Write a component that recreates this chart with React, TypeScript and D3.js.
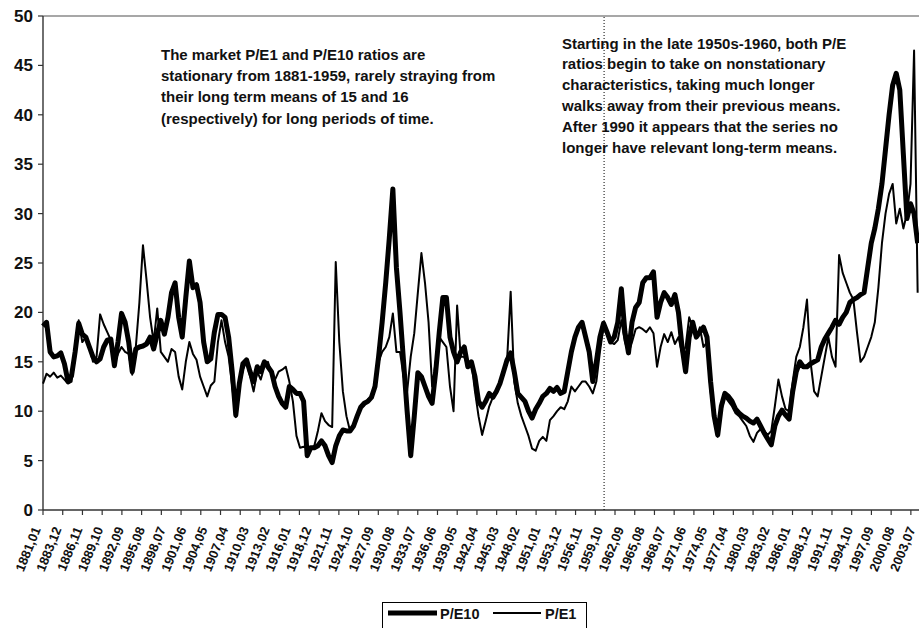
import React, { useEffect, useRef } from 'react';
import * as d3 from 'd3';

// semiannual readings (Jan, Jul) starting 1881
const START_YEAR = 1881;
const STEP_MONTHS = 6;

const peTen = [
  18.6, 19.0, 16.0, 15.5, 15.6, 15.9, 14.8, 13.0, 13.6, 16.0, // 1881-1885
  18.9, 17.8, 17.5, 16.5, 15.5, 15.0, 15.3, 16.5, 17.2, 17.3, // 1886-1890
  14.6, 17.0, 19.9, 19.0, 17.0, 14.0, 16.3, 16.5, 16.6, 16.8, // 1891-1895
  17.5, 16.3, 17.8, 19.2, 17.8, 19.5, 22.0, 23.0, 19.5, 17.5, // 1896-1900
  21.5, 25.2, 22.5, 22.8, 21.0, 17.0, 15.0, 15.3, 18.0, 19.8, // 1901-1905
  19.8, 19.5, 17.5, 14.0, 9.6, 12.8, 14.8, 15.2, 14.0, 13.0, // 1906-1910
  14.5, 14.0, 15.0, 14.5, 14.0, 12.5, 11.5, 10.8, 10.4, 12.5, // 1911-1915
  12.2, 11.8, 11.8, 11.0, 5.5, 6.3, 6.3, 6.5, 7.0, 6.5, // 1916-1920
  5.5, 4.8, 6.5, 7.5, 8.1, 8.0, 8.0, 8.5, 9.5, 10.4, // 1921-1925
  10.8, 11.0, 11.4, 12.5, 15.5, 19.0, 23.0, 27.5, 32.5, 24.5, // 1926-1930
  20.0, 15.0, 10.0, 5.5, 9.5, 13.9, 13.5, 12.5, 11.5, 10.8, // 1931-1935
  14.0, 18.0, 21.5, 21.5, 17.5, 16.0, 15.0, 16.0, 16.5, 14.5, // 1936-1940
  15.0, 13.5, 11.0, 10.4, 11.0, 11.8, 11.4, 12.0, 12.8, 14.0, // 1941-1945
  15.2, 15.9, 14.0, 11.8, 11.4, 11.0, 10.0, 9.3, 10.2, 10.8, // 1946-1950
  11.5, 11.8, 12.3, 12.0, 12.4, 11.8, 12.0, 14.0, 16.0, 17.5, // 1951-1955
  18.5, 19.0, 17.5, 16.0, 13.0, 15.0, 17.5, 18.9, 18.0, 17.0, // 1956-1960
  17.5, 19.0, 22.4, 18.0, 15.9, 19.0, 20.5, 21.0, 23.0, 23.5, // 1961-1965
  23.5, 24.1, 19.5, 21.0, 22.0, 21.5, 20.8, 21.8, 20.0, 16.5, // 1966-1970
  14.0, 17.5, 19.0, 17.5, 18.0, 18.5, 17.5, 13.0, 9.5, 7.6, // 1971-1975
  10.5, 11.8, 11.5, 11.0, 10.2, 9.8, 9.5, 9.3, 9.0, 8.8, // 1976-1980
  9.2, 8.5, 7.8, 7.2, 6.6, 8.5, 9.5, 10.1, 9.6, 9.2, // 1981-1985
  12.0, 14.0, 15.0, 14.5, 14.5, 14.8, 15.0, 15.2, 16.5, 17.3, // 1986-1990
  17.9, 18.5, 19.2, 18.8, 19.5, 20.0, 21.0, 21.3, 21.5, 21.8, // 1991-1995
  22.0, 24.5, 27.0, 28.5, 30.5, 33.0, 36.5, 40.0, 43.0, 44.2, // 1996-2000
  42.5, 36.0, 29.5, 31.0, 30.0, 27.0, // 2001-2003
];

const peOne = [
  12.8, 13.8, 13.5, 13.9, 13.4, 13.6, 13.2, 12.8, 13.0, 15.5, // 1881-1885
  19.2, 17.0, 17.5, 16.5, 15.0, 15.5, 19.8, 18.8, 18.0, 17.2, // 1886-1890
  14.8, 15.8, 16.5, 16.0, 15.8, 13.7, 16.5, 21.0, 26.8, 23.3, // 1891-1895
  19.5, 17.0, 20.4, 16.0, 15.5, 15.0, 16.3, 16.0, 13.5, 12.2, // 1896-1900
  15.0, 17.0, 15.8, 15.2, 13.5, 12.5, 11.5, 12.6, 13.0, 17.0, // 1901-1905
  19.2, 17.0, 15.5, 12.5, 9.4, 12.5, 14.2, 15.0, 13.5, 12.0, // 1906-1910
  14.0, 13.2, 14.5, 15.0, 13.8, 13.2, 14.0, 14.2, 14.5, 13.0, // 1911-1915
  11.0, 7.5, 6.3, 6.4, 6.3, 6.2, 6.5, 8.0, 9.8, 9.0, // 1916-1920
  8.6, 8.4, 25.1, 17.0, 12.0, 9.5, 8.0, 8.5, 9.5, 10.4, // 1921-1925
  10.6, 11.2, 11.4, 13.0, 15.0, 16.0, 16.5, 17.5, 19.9, 16.0, // 1926-1930
  16.0, 13.5, 12.0, 15.5, 17.9, 22.0, 26.0, 23.0, 19.0, 12.5, // 1931-1935
  15.0, 17.5, 17.0, 16.5, 12.5, 10.0, 20.7, 15.5, 15.5, 14.5, // 1936-1940
  15.0, 12.0, 9.5, 7.6, 9.0, 10.5, 11.4, 12.0, 13.0, 14.0, // 1941-1945
  15.2, 22.1, 13.0, 10.8, 9.5, 8.5, 7.5, 6.2, 6.0, 7.0, // 1946-1950
  7.4, 7.0, 9.1, 9.5, 10.0, 10.4, 10.2, 11.0, 12.5, 12.0, // 1951-1955
  12.5, 13.0, 13.0, 12.5, 11.8, 13.0, 16.0, 18.5, 18.0, 17.0, // 1956-1960
  16.8, 17.2, 19.2, 17.0, 15.9, 17.0, 18.3, 18.5, 18.3, 18.0, // 1961-1965
  18.5, 17.9, 14.5, 16.5, 17.8, 17.0, 18.0, 16.8, 17.5, 15.9, // 1966-1970
  16.5, 19.5, 18.5, 17.5, 18.5, 16.5, 17.0, 12.0, 9.0, 7.4, // 1971-1975
  10.0, 11.5, 11.0, 10.5, 9.8, 9.5, 9.0, 8.5, 7.5, 6.9, // 1976-1980
  7.8, 8.2, 8.0, 7.6, 8.0, 10.5, 13.2, 11.5, 10.2, 10.0, // 1981-1985
  13.0, 15.5, 16.5, 18.5, 21.3, 15.0, 12.0, 11.5, 13.5, 15.5, // 1986-1990
  17.5, 15.5, 14.5, 25.8, 24.0, 23.0, 22.0, 21.3, 18.0, 15.0, // 1991-1995
  15.5, 16.5, 17.5, 19.0, 22.5, 27.0, 30.0, 32.0, 33.0, 29.0, // 1996-2000
  30.5, 28.5, 30.0, 33.0, 46.5, 22.0, // 2001-2003
];

const xLabels = [
  '1881,01', '1883,12', '1886,11', '1889,10', '1892,09', '1895,08', '1898,07',
  '1901,06', '1904,05', '1907,04', '1910,03', '1913,02', '1916,01', '1918,12',
  '1921,11', '1924,10', '1927,09', '1930,08', '1933,07', '1936,06', '1939,05',
  '1942,04', '1945,03', '1948,02', '1951,01', '1953,12', '1956,11', '1959,10',
  '1962,09', '1965,08', '1968,07', '1971,06', '1974,05', '1977,04', '1980,03',
  '1983,02', '1986,01', '1988,12', '1991,11', '1994,10', '1997,09', '2000,08',
  '2003,07',
];

const yTicks = [0, 5, 10, 15, 20, 25, 30, 35, 40, 45, 50];

const DIVIDER = '1959,08';
const TICK_STEP = 33.15; // months between axis tick marks
const TICK_COUNT = 45;

const leftNote = [
  'The market P/E1 and P/E10 ratios are',
  'stationary from 1881-1959, rarely straying from',
  'their long term means of 15 and 16',
  '(respectively) for long periods of time.',
];

const rightNote = [
  'Starting in the late 1950s-1960, both P/E',
  'ratios begin to take on nonstationary',
  'characteristics, taking much longer',
  'walks away from their previous means.',
  'After 1990 it appears that the series no',
  'longer have relevant long-term means.',
];

const FONT = '"Liberation Sans", Arial, sans-serif';

const toMonth = (label: string) => {
  const [yr, mo] = label.split(',').map(Number);
  return (yr - START_YEAR) * 12 + (mo - 1);
};

export default function App() {
  const svgRef = useRef<SVGSVGElement>(null);

  useEffect(() => {
    if (!svgRef.current) return;
    const svg = d3.select(svgRef.current);
    svg.selectAll('*').remove();

    const x = d3.scaleLinear().domain([0, 1000]).range([43, 638]);
    const y = d3.scaleLinear().domain([0, 50]).range([510, 16]);

    // frame: gray top edge, axes
    svg.append('line')
      .attr('x1', 43).attr('x2', 919)
      .attr('y1', y(50)).attr('y2', y(50))
      .attr('stroke', '#8a8a8a').attr('stroke-width', 1.6);

    svg.append('line')
      .attr('x1', 43).attr('x2', 43)
      .attr('y1', y(50)).attr('y2', y(0))
      .attr('stroke', '#333').attr('stroke-width', 1.4);

    svg.append('line')
      .attr('x1', 43).attr('x2', 919)
      .attr('y1', y(0)).attr('y2', y(0))
      .attr('stroke', '#333').attr('stroke-width', 1.4);

    svg.append('g')
      .selectAll('line')
      .data(yTicks)
      .join('line')
      .attr('x1', 38).attr('x2', 43)
      .attr('y1', d => y(d)).attr('y2', d => y(d))
      .attr('stroke', '#333').attr('stroke-width', 1.2);

    svg.append('g')
      .selectAll('text')
      .data(yTicks)
      .join('text')
      .attr('x', 33)
      .attr('y', d => y(d) + 6)
      .attr('text-anchor', 'end')
      .attr('font-family', FONT)
      .attr('font-weight', 'bold')
      .attr('font-size', 17)
      .attr('fill', '#111')
      .text(d => d);

    svg.append('g')
      .selectAll('line')
      .data(d3.range(TICK_COUNT).map(k => k * TICK_STEP))
      .join('line')
      .attr('x1', d => x(d)).attr('x2', d => x(d))
      .attr('y1', y(0)).attr('y2', y(0) + 5)
      .attr('stroke', '#333').attr('stroke-width', 1.2);

    svg.append('g')
      .selectAll('text')
      .data(xLabels)
      .join('text')
      .attr('transform', d => `translate(${x(toMonth(d)) - 2},529) rotate(-68)`)
      .attr('text-anchor', 'end')
      .attr('font-family', FONT)
      .attr('font-weight', 'bold')
      .attr('font-size', 13)
      .attr('fill', '#111')
      .text(d => d);

    // dotted divider
    svg.append('line')
      .attr('x1', x(toMonth(DIVIDER))).attr('x2', x(toMonth(DIVIDER)))
      .attr('y1', y(50) + 1).attr('y2', y(0))
      .attr('stroke', '#000').attr('stroke-width', 1)
      .attr('stroke-dasharray', '1,2');

    const line = d3.line<number>()
      .x((_, i) => x(i * STEP_MONTHS))
      .y(d => y(d));

    svg.append('path')
      .attr('d', line(peTen))
      .attr('fill', 'none')
      .attr('stroke', '#000')
      .attr('stroke-width', 5)
      .attr('stroke-linejoin', 'round');

    svg.append('path')
      .attr('d', line(peOne))
      .attr('fill', 'none')
      .attr('stroke', '#000')
      .attr('stroke-width', 2)
      .attr('stroke-linejoin', 'round');

    // annotations
    svg.append('text')
      .attr('font-family', FONT).attr('font-weight', 'bold')
      .attr('font-size', 15).attr('fill', '#111')
      .selectAll('tspan')
      .data(leftNote)
      .join('tspan')
      .attr('x', 161)
      .attr('y', (_, i) => 59.5 + i * 21.4)
      .text(d => d);

    svg.append('text')
      .attr('font-family', FONT).attr('font-weight', 'bold')
      .attr('font-size', 15).attr('fill', '#111')
      .selectAll('tspan')
      .data(rightNote)
      .join('tspan')
      .attr('x', 562)
      .attr('y', (_, i) => 48.5 + i * 20.8)
      .text(d => d);

    // legend
    const lg = svg.append('g');
    lg.append('rect')
      .attr('x', 382.5).attr('y', 602.5)
      .attr('width', 204).attr('height', 40)
      .attr('fill', '#fff').attr('stroke', '#000').attr('stroke-width', 1);
    lg.append('line')
      .attr('x1', 388).attr('x2', 437).attr('y1', 613).attr('y2', 613)
      .attr('stroke', '#000').attr('stroke-width', 5);
    lg.append('text')
      .attr('x', 440).attr('y', 618.5)
      .attr('font-family', FONT).attr('font-weight', 'bold')
      .attr('font-size', 14.5).attr('fill', '#111')
      .text('P/E10');
    lg.append('line')
      .attr('x1', 493).attr('x2', 541).attr('y1', 613).attr('y2', 613)
      .attr('stroke', '#000').attr('stroke-width', 2);
    lg.append('text')
      .attr('x', 545).attr('y', 618.5)
      .attr('font-family', FONT).attr('font-weight', 'bold')
      .attr('font-size', 14.5).attr('fill', '#111')
      .text('P/E1');
  }, []);

  return (
    <div style={{ position: 'absolute', left: 0, top: 0 }}>
      <svg ref={svgRef} width={919} height={628} style={{ display: 'block', background: '#fff' }} />
    </div>
  );
}
